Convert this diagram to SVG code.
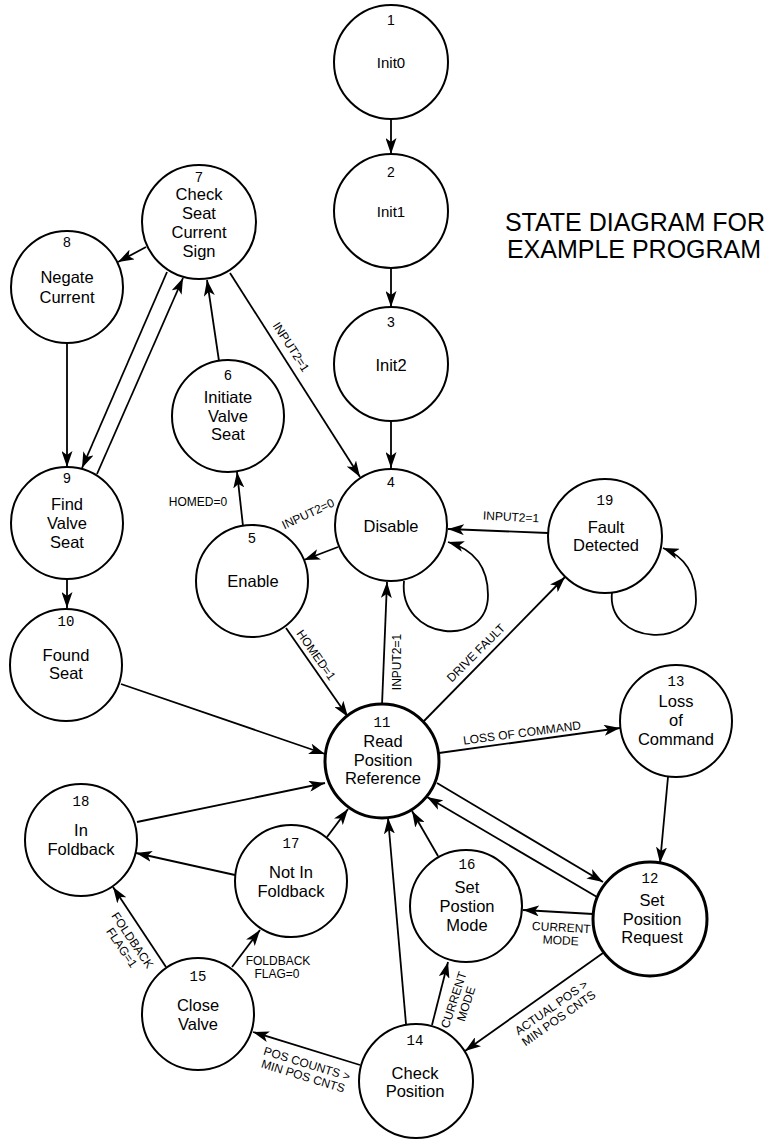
<svg xmlns="http://www.w3.org/2000/svg" width="770" height="1139" viewBox="0 0 770 1139">
<style>
.n{fill:#fff;stroke:#000;stroke-width:2}
.b{stroke-width:3}
.t{font-family:"Liberation Sans",Arial,sans-serif;font-size:16.5px;text-anchor:middle;fill:#000}
.s{font-size:15px}
.d{font-family:"Liberation Sans",Arial,sans-serif;font-size:14px;text-anchor:middle;fill:#000}
.m{font-family:"Liberation Mono","Courier New",monospace;font-size:14px;text-anchor:middle;fill:#000}
.e{fill:none;stroke:#000;stroke-width:1.8}
.l{font-family:"Liberation Sans",Arial,sans-serif;font-size:12px;text-anchor:middle;fill:#000}
.title{font-family:"Liberation Sans",Arial,sans-serif;font-size:25px;text-anchor:middle;fill:#000}
</style>
<defs>
<marker id="a" markerUnits="userSpaceOnUse" markerWidth="17" markerHeight="11" refX="16" refY="5.5" orient="auto">
<path d="M0,0 L16,5.5 L0,11 L4,5.5 z" fill="#000"/>
</marker>
</defs>
<rect width="770" height="1139" fill="#fff"/>
<text class="title" x="635" y="231">STATE DIAGRAM FOR</text>
<text class="title" x="634" y="258">EXAMPLE PROGRAM</text>

<g id="connectors">
<path class="e" marker-end="url(#a)" d="M391,119 L391,154"/>
<path class="e" marker-end="url(#a)" d="M391,268 L391,307"/>
<path class="e" marker-end="url(#a)" d="M391,421 L391,468"/>
<path class="e" marker-end="url(#a)" d="M230,273 L360,477"/>
<path class="e" marker-end="url(#a)" d="M146,247 L118,262"/>
<path class="e" marker-end="url(#a)" d="M167,272 L82,468"/>
<path class="e" marker-end="url(#a)" d="M97,474 L183,278"/>
<path class="e" marker-end="url(#a)" d="M219,361 L207,280"/>
<path class="e" marker-end="url(#a)" d="M67,343 L67,467"/>
<path class="e" marker-end="url(#a)" d="M67,579 L67,608"/>
<path class="e" marker-end="url(#a)" d="M243,526 L237,472"/>
<path class="e" marker-end="url(#a)" d="M338,547 L304,560"/>
<path class="e" marker-end="url(#a)" d="M404,581 C398,640 488,650 488,595 C488,565 472,549 448,542"/>
<path class="e" marker-end="url(#a)" d="M612,592 C606,645 696,650 696,600 C696,575 686,557 663,548"/>
<path class="e" marker-end="url(#a)" d="M548,533 L448,529"/>
<path class="e" marker-end="url(#a)" d="M286,628 L348,717"/>
<path class="e" marker-end="url(#a)" d="M382,705 L387,582"/>
<path class="e" marker-end="url(#a)" d="M423,722 L565,577"/>
<path class="e" marker-end="url(#a)" d="M439,753 L620,728"/>
<path class="e" marker-end="url(#a)" d="M668,777 L660,863"/>
<path class="e" marker-end="url(#a)" d="M437,783 L603,882"/>
<path class="e" marker-end="url(#a)" d="M597,897 L427,797"/>
<path class="e" marker-end="url(#a)" d="M593,914 L523,910"/>
<path class="e" marker-end="url(#a)" d="M603,953 L465,1051"/>
<path class="e" marker-end="url(#a)" d="M432,1025 L448,962"/>
<path class="e" marker-end="url(#a)" d="M406,1024 L388,818"/>
<path class="e" marker-end="url(#a)" d="M438,856 L412,811"/>
<path class="e" marker-end="url(#a)" d="M327,837 L348,809"/>
<path class="e" marker-end="url(#a)" d="M235,875 L136,853"/>
<path class="e" marker-end="url(#a)" d="M137,822 L325,783"/>
<path class="e" marker-end="url(#a)" d="M121,684 L325,754"/>
<path class="e" marker-end="url(#a)" d="M166,967 L113,887"/>
<path class="e" marker-end="url(#a)" d="M232,967 L260,930"/>
<path class="e" marker-end="url(#a)" d="M360,1065 L253,1032"/>

<text class="l" transform="translate(291,347) rotate(57)" y="4">INPUT2=1</text>
<text class="l" x="198" y="506">HOMED=0</text>
<text class="l" transform="translate(308,514) rotate(-25)" y="4">INPUT2=0</text>
<text class="l" transform="translate(511,517) rotate(3)" y="4">INPUT2=1</text>
<text class="l" transform="translate(316,655) rotate(55)" y="4">HOMED=1</text>
<text class="l" transform="translate(397,662) rotate(-90)" y="4">INPUT2=1</text>
<text class="l" transform="translate(476,653) rotate(-45)" y="4">DRIVE FAULT</text>
<text class="l" transform="translate(522,733) rotate(-7.5)" y="4">LOSS OF COMMAND</text>
<g transform="translate(561,934) rotate(3)"><text class="l" y="-2.5">CURRENT</text><text class="l" y="10.5">MODE</text></g>
<g transform="translate(555,1013) rotate(-35)"><text class="l" y="-2.5">ACTUAL POS &gt;</text><text class="l" y="10.5">MIN POS CNTS</text></g>
<g transform="translate(460,1002) rotate(-72)"><text class="l" y="-2.5">CURRENT</text><text class="l" y="10.5">MODE</text></g>
<g transform="translate(127,944) rotate(56)"><text class="l" y="-2.5">FOLDBACK</text><text class="l" y="10.5">FLAG=1</text></g>
<text class="l" x="278" y="965">FOLDBACK</text>
<text class="l" x="277" y="978">FLAG=0</text>
<g transform="translate(305,1070) rotate(17)"><text class="l" y="-2.5">POS COUNTS &gt;</text><text class="l" y="10.5">MIN POS CNTS</text></g>
</g>

<g id="n1"><circle class="n" cx="391" cy="62" r="57"/><text class="d" x="391" y="25">1</text><text class="t s" x="391" y="68">Init0</text></g>
<g id="n2"><circle class="n" cx="391" cy="211" r="57"/><text class="d" x="391" y="177">2</text><text class="t s" x="391" y="217">Init1</text></g>
<g id="n3"><circle class="n" cx="391" cy="364" r="57"/><text class="d" x="391" y="327">3</text><text class="t" x="391" y="371">Init2</text></g>
<g id="n4"><circle class="n" cx="391" cy="525" r="56"/><text class="d" x="391" y="487">4</text><text class="t" x="391" y="532">Disable</text></g>
<g id="n5"><circle class="n" cx="252" cy="581" r="56"/><text class="d" x="252" y="543">5</text><text class="t" x="253" y="587">Enable</text></g>
<g id="n6"><circle class="n" cx="228" cy="416" r="56"/><text class="d" x="228" y="380">6</text><text class="t" x="228" y="403">Initiate</text><text class="t" x="228" y="422">Valve</text><text class="t" x="228" y="440">Seat</text></g>
<g id="n7"><circle class="n" cx="199" cy="222" r="57"/><text class="d" x="199" y="182">7</text><text class="t" x="199" y="200">Check</text><text class="t" x="199" y="219">Seat</text><text class="t" x="199" y="238">Current</text><text class="t" x="199" y="257">Sign</text></g>
<g id="n8"><circle class="n" cx="67" cy="287" r="56"/><text class="d" x="67" y="247">8</text><text class="t" x="67" y="283">Negate</text><text class="t" x="67" y="303">Current</text></g>
<g id="n9"><circle class="n" cx="67" cy="523" r="56"/><text class="d" x="67" y="483">9</text><text class="t" x="67" y="510">Find</text><text class="t" x="67" y="529">Valve</text><text class="t" x="67" y="548">Seat</text></g>
<g id="n10"><circle class="n" cx="66" cy="665" r="56"/><text class="m" x="66" y="626">10</text><text class="t" x="66" y="661">Found</text><text class="t" x="66" y="679">Seat</text></g>
<g id="n11"><circle class="n b" cx="382" cy="761" r="57"/><text class="m" x="382" y="727">11</text><text class="t" x="383" y="747">Read</text><text class="t" x="383" y="766">Position</text><text class="t" x="383" y="784">Reference</text></g>
<g id="n12"><circle class="n b" cx="650" cy="919" r="57"/><text class="m" x="650" y="883">12</text><text class="t" x="652" y="906">Set</text><text class="t" x="652" y="925">Position</text><text class="t" x="652" y="943">Request</text></g>
<g id="n13"><circle class="n" cx="676" cy="721" r="56"/><text class="m" x="676" y="686">13</text><text class="t" x="676" y="707">Loss</text><text class="t" x="676" y="726">of</text><text class="t" x="676" y="745">Command</text></g>
<g id="n14"><circle class="n" cx="416" cy="1081" r="57"/><text class="m" x="415" y="1045">14</text><text class="t" x="415" y="1079">Check</text><text class="t" x="415" y="1097">Position</text></g>
<g id="n15"><circle class="n" cx="198" cy="1014" r="56"/><text class="m" x="198" y="981">15</text><text class="t" x="198" y="1011">Close</text><text class="t" x="198" y="1030">Valve</text></g>
<g id="n16"><circle class="n" cx="466" cy="906" r="56"/><text class="m" x="467" y="869">16</text><text class="t" x="467" y="893">Set</text><text class="t" x="467" y="912">Postion</text><text class="t" x="467" y="931">Mode</text></g>
<g id="n17"><circle class="n" cx="291" cy="881" r="56"/><text class="m" x="291" y="848">17</text><text class="t" x="291" y="878">Not In</text><text class="t" x="291" y="897">Foldback</text></g>
<g id="n18"><circle class="n" cx="81" cy="840" r="56"/><text class="m" x="81" y="806">18</text><text class="t" x="81" y="836">In</text><text class="t" x="81" y="855">Foldback</text></g>
<g id="n19"><circle class="n" cx="605" cy="536" r="57"/><text class="m" x="605" y="505">19</text><text class="t" x="606" y="533">Fault</text><text class="t" x="606" y="551">Detected</text></g>
</svg>
